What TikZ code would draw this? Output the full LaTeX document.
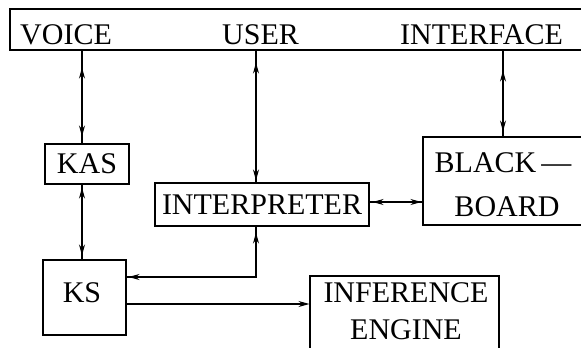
\documentclass[tikz,border=0pt]{standalone}
\usepackage{fontspec}
\setmainfont{Liberation Serif}
\usetikzlibrary{arrows.meta,decorations.markings}
\begin{document}
\begin{tikzpicture}[x=1pt,y=-1pt,
  >={Stealth[length=11pt,width=6pt]},
  box/.style 2 args={draw, line width=1.1pt, inner sep=0pt,
    minimum width=#1, minimum height=#2,
    font=\fontsize{30}{30}\selectfont},
  lbl/.style={inner sep=0pt, font=\fontsize{30}{30}\selectfont},
  link/.style={line width=1.1pt},
  twoway/.style 2 args={postaction={decorate, decoration={markings,
    mark=at position #1 with {\arrowreversed{>}},
    mark=at position -#2 with {\arrow{>}}}}}]
\useasboundingbox (0,0) rectangle (581,348);

% boxes
\node[box={573pt}{41pt}] (top) at (296.5,29.5) {};
\node[box={84pt}{40pt}] (kas) at (87,164) {KAS};
\node[box={214pt}{43pt}] (interp) at (262,204.5) {INTERPRETER};
\node[box={161pt}{88pt}] (bb) at (503.5,181) {};
\node[box={83pt}{75pt}] (ks) at (84.5,297.5) {};
\node[box={189pt}{84pt}] (inf) at (404.5,318) {};

% texts
\node[lbl, anchor=base west] (voice) at (20,44) {VOICE};
\node[lbl, anchor=base west] (user) at (222,44) {USER};
\node[lbl, anchor=base west] (iface) at (400,44) {INTERFACE};
\node[lbl] (black) at (503,163) {BLACK\,—};
\node[lbl] (board) at (507,207) {BOARD};
\node[lbl] (kstext) at (82,293) {KS};
\node[lbl] (inftext) at (406,293) {INFERENCE};
\node[lbl] (engtext) at (406,330) {ENGINE};

% guide coordinates for the connectors
\coordinate (vx) at (82,0);
\coordinate (ux) at (256,0);
\coordinate (ix) at (503,0);
\coordinate (ry) at (0,277);
\coordinate (by) at (0,202);
\coordinate (ey) at (0,304);

% connectors
\draw[link, twoway={17pt}{7pt}] (top.south -| vx) -- (kas.north -| vx);
\draw[link, twoway={12pt}{2pt}] (top.south -| ux) -- (interp.north -| ux);
\draw[link, twoway={20pt}{5pt}] (top.south -| ix) -- (bb.north -| ix);
\draw[link, twoway={3pt}{4pt}] (kas.south -| vx) -- (ks.north -| vx);
\draw[link, twoway={6pt}{2pt}] (interp.south -| ux) |- (ks.east |- ry);
\draw[link, ->] (ks.east |- ey) -- (inf.west |- ey);
\draw[link, twoway={3pt}{1pt}] (interp.east |- by) -- (bb.west |- by);
\end{tikzpicture}
\end{document}
